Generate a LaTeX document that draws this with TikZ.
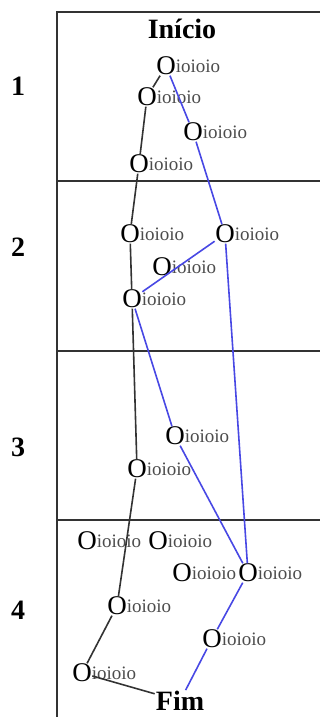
\documentclass[tikz,border=0pt]{standalone}
\usepackage{fontspec}
\setmainfont{Liberation Serif}
\definecolor{pathblue}{RGB}{72,72,228}
\newcommand{\sublbl}{\rlap{\raisebox{2.5pt}{\fontsize{19}{19}\selectfont\color{black!70}ioioio}}}

\begin{document}
\begin{tikzpicture}[
        x=1pt, y=-1pt,
        ostate/.style={inner sep=0.4pt, font=\fontsize{27}{27}\selectfont},
        endtext/.style={inner sep=1pt, font=\fontsize{28}{28}\selectfont\bfseries},
        rowno/.style={font=\fontsize{28}{28}\selectfont\bfseries},
        frame/.style={line width=1.3pt, black!80},
        blackpath/.style={line width=1.6pt, black!80},
        bluepath/.style={line width=1.6pt, pathblue}
    ]
    \useasboundingbox (0,0) rectangle (320,717);

    % Frame and rows
    \draw[frame] (320,12) -- (57,12) -- (57,718);
    \draw[frame] (57,181) -- (320,181);
    \draw[frame] (57,351) -- (320,351);
    \draw[frame] (57,520) -- (320,520);
    \node[rowno] (row1) at (18,86) {1};
    \node[rowno] (row2) at (18,247) {2};
    \node[rowno] (row3) at (18,447) {3};
    \node[rowno] (row4) at (18,610) {4};

    % Nodes
    \node[endtext] (inicio) at (182,29) {Início};
    \node[ostate] (a) at (166,66) {O\sublbl};
    \node[ostate] (b) at (147,97) {O\sublbl};
    \node[ostate] (i) at (193,132) {O\sublbl};
    \node[ostate] (c) at (139,164) {O\sublbl};
    \node[ostate] (d) at (130,234) {O\sublbl};
    \node[ostate] (j) at (225,234) {O\sublbl};
    \node[ostate] (x) at (162,267) {O\sublbl};
    \node[ostate] (e) at (132,299) {O\sublbl};
    \node[ostate] (k) at (175,436) {O\sublbl};
    \node[ostate] (f) at (137,469) {O\sublbl};
    \node[ostate] (r1) at (87,541) {O\sublbl};
    \node[ostate] (r2) at (158,541) {O\sublbl};
    \node[ostate] (r3) at (182,573) {O\sublbl};
    \node[ostate] (m) at (248,573) {O\sublbl};
    \node[ostate] (g) at (117,606) {O\sublbl};
    \node[ostate] (n) at (212,639) {O\sublbl};
    \node[ostate] (h) at (82,673) {O\sublbl};
    \node[endtext] (fim) at (180,701) {Fim};

    % Black path
    \draw[blackpath] (a) -- (b) -- (c) -- (d) -- (e) -- (f) -- (g) -- (h) -- (fim);

    % Blue path
    \draw[bluepath] (a) -- (i) -- (j) -- (e);
    \draw[bluepath] (j) -- (m);
    \draw[bluepath] (e) -- (k) -- (m) -- (n) -- (fim);

\end{tikzpicture}
\end{document}
